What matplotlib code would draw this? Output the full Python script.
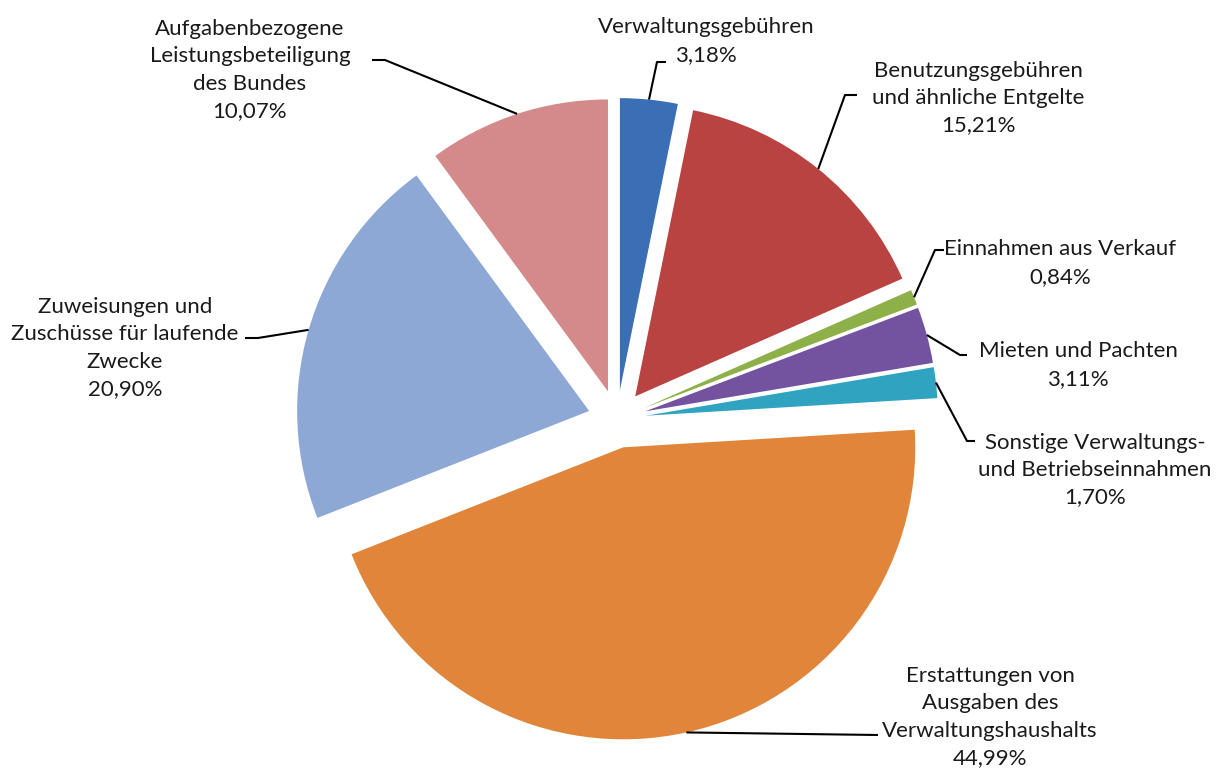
import numpy as np
import matplotlib
matplotlib.use("Agg")
import matplotlib.pyplot as plt

W, H = 1226, 773

labels = [
    "Verwaltungsgebühren",
    "Benutzungsgebühren\nund ähnliche Entgelte",
    "Einnahmen aus Verkauf",
    "Mieten und Pachten",
    "Sonstige Verwaltungs-\nund Betriebseinnahmen",
    "Erstattungen von\nAusgaben des\nVerwaltungshaushalts",
    "Zuweisungen und\nZuschüsse für laufende\nZwecke",
    "Aufgabenbezogene\nLeistungsbeteiligung\ndes Bundes",
]
shares = [3.18, 15.21, 0.84, 3.11, 1.70, 44.99, 20.90, 10.07]
colors = ["#3A6EB5", "#B94340", "#8DB048", "#7352A0", "#2FA3BF",
          "#E0853A", "#8EA8D6", "#D48A8A"]

# label layout in image pixels: text centre, leader elbow, hook end
text_pos = [(706, 41), (978, 98), (1060, 263), (1078, 365), (1095, 470),
            (990, 717), (125, 348), (250, 70)]
elbow = [(657, 62), (845, 95), (935, 250), (960, 355), (967, 441),
         (878, 735), (258, 338), (385, 60)]
hook = [9, 12, 9, 7, 8, 0, -13, -13]


def fy(y):
    return H - y


fig = plt.figure(figsize=(W / 100, H / 100), dpi=100)
ax = fig.add_axes([0, 0, 1, 1])

cx, cy, R = 617, fy(419), 292
wedges, _ = ax.pie(shares, colors=colors, startangle=90, counterclock=False,
                   radius=R, center=(cx, cy), explode=[29] * len(shares),
                   wedgeprops=dict(linewidth=0))
ax.set_xlim(0, W)
ax.set_ylim(0, H)
ax.set_aspect("equal")
ax.axis("off")

for w, lab, val, tp, el, hk in zip(wedges, labels, shares, text_pos, elbow, hook):
    ang = np.deg2rad((w.theta1 + w.theta2) / 2)
    x0 = w.center[0] + w.r * np.cos(ang)
    y0 = w.center[1] + w.r * np.sin(ang)
    xs = [x0, el[0], el[0] + hk]
    ys = [y0, fy(el[1]), fy(el[1])]
    ax.plot(xs, ys, color="black", lw=1.5, solid_capstyle="butt")
    txt = lab + "\n" + f"{val:.2f}%".replace(".", ",")
    ax.text(tp[0], fy(tp[1]), txt, ha="center", va="center", fontsize=16,
            family="Lato", color="#1a1a1a", linespacing=1.45)

fig.savefig("out.png", dpi=100, facecolor="white")
